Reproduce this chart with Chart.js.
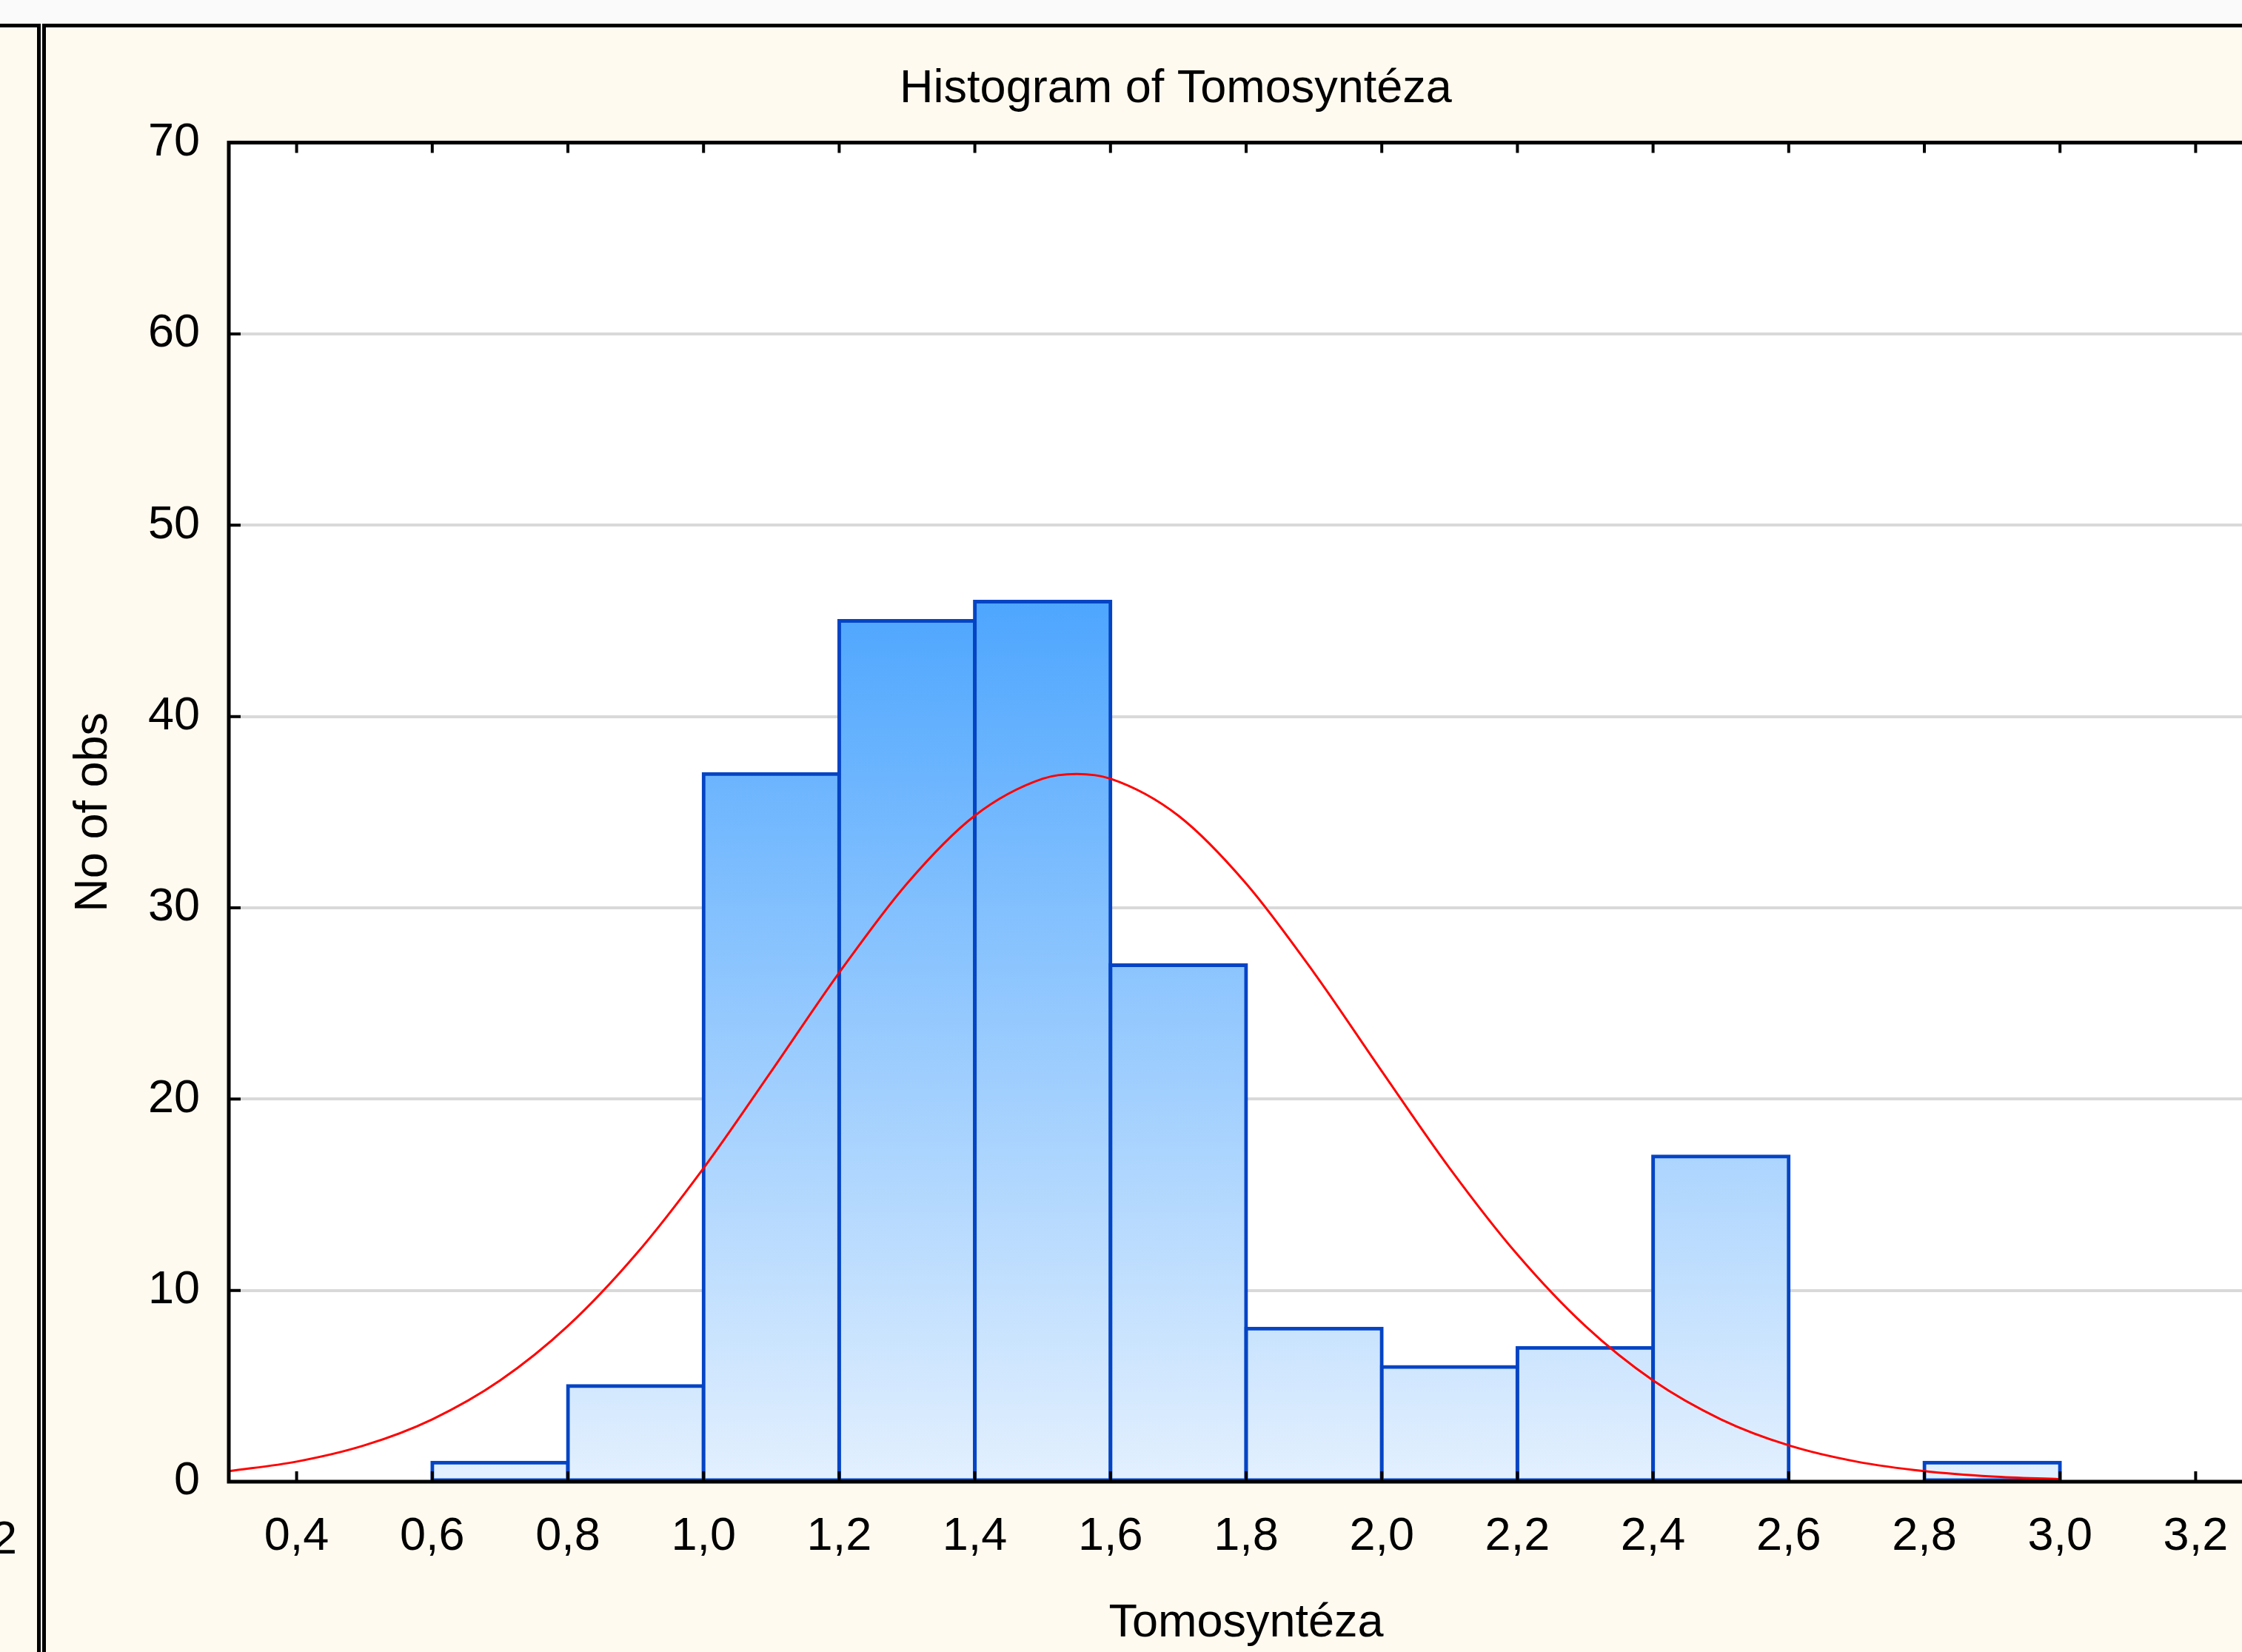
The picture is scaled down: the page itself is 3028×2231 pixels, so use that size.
<!DOCTYPE html>
<html>
<head>
<meta charset="utf-8">
<title>Histogram of Tomosyntéza</title>
<script src="https://cdn.jsdelivr.net/npm/chart.js@4.4.1/dist/chart.umd.min.js"></script>
<style>
    html, body {
        margin: 0;
        padding: 0;
        width: 3028px;
        height: 2231px;
        overflow: hidden;
        background: #fafafa;
        font-family: 'Liberation Sans', Arial, sans-serif;
    }
    #leftPanel {
        position: absolute;
        left: 0;
        top: 32px;
        width: 50px;
        height: 2199px;
        background: #fffaf0;
        border-top: 5px solid #000;
        border-right: 5px solid #000;
        overflow: hidden;
    }
    #leftPanel span {
        position: absolute;
        right: 27px;
        top: 2001px;
        font-size: 63px;
        line-height: 76px;
        color: #000;
        white-space: nowrap;
    }
    #mainPanel {
        position: absolute;
        left: 57px;
        top: 32px;
        width: 3100px;
        height: 2199px;
        background: #fffaf0;
        border-top: 5px solid #000;
        border-left: 5px solid #000;
    }
    #histogramChart {
        position: absolute;
        left: 0;
        top: 0;
    }
</style>
</head>
<body>
<div id="leftPanel"><span>3,2</span></div>
<div id="mainPanel">
    <canvas id="histogramChart" width="2995" height="2194" style="width:2995px;height:2194px"></canvas>
</div>
<script>
// bins of width 0.2, given by their centres
const binCenters = [0.7, 0.9, 1.1, 1.3, 1.5, 1.7, 1.9, 2.1, 2.3, 2.5, 2.7, 2.9];
const binCounts = [1, 5, 37, 45, 46, 27, 8, 6, 7, 17, 0, 1];

// expected normal curve
const curveX = [0.3, 0.4, 0.5, 0.6, 0.7, 0.8, 0.9, 1.0, 1.1, 1.2, 1.3, 1.4, 1.5, 1.55, 1.6,
                1.7, 1.8, 1.9, 2.0, 2.1, 2.2, 2.3, 2.4, 2.5, 2.6, 2.7, 2.8, 2.9, 3.0];
const curveY = [0.55, 1.05, 1.9, 3.26, 5.29, 8.14, 11.87, 16.39, 21.46, 26.61, 31.27, 34.82, 36.75, 37.0, 36.75,
                34.82, 31.27, 26.61, 21.46, 16.39, 11.87, 8.14, 5.29, 3.26, 1.9, 1.05, 0.55, 0.27, 0.13];

const xTickValues = [0.4, 0.6, 0.8, 1.0, 1.2, 1.4, 1.6, 1.8, 2.0, 2.2, 2.4, 2.6, 2.8, 3.0, 3.2];
const xTickLabels = ['0,4', '0,6', '0,8', '1,0', '1,2', '1,4', '1,6', '1,8', '2,0', '2,2', '2,4', '2,6', '2,8', '3,0', '3,2'];
const yTickValues = [0, 10, 20, 30, 40, 50, 60, 70];

Chart.defaults.font.family = "'Liberation Sans', Arial, sans-serif";
Chart.defaults.font.size = 63;
Chart.defaults.color = '#000';

// white plot background
const plotBackground = {
    id: 'plotBackground',
    beforeDraw(chart) {
        const {ctx, chartArea} = chart;
        ctx.save();
        ctx.fillStyle = '#ffffff';
        ctx.fillRect(chartArea.left, chartArea.top, chartArea.width, chartArea.height);
        ctx.restore();
    }
};

// black frame with inside tick marks, like the original
const plotFrame = {
    id: 'plotFrame',
    afterDatasetsDraw(chart) {
        const {ctx, chartArea, scales} = chart;
        ctx.save();
        ctx.strokeStyle = '#000';
        ctx.lineWidth = 4;
        ctx.beginPath();
        xTickValues.forEach(v => {
            const px = scales.x.getPixelForValue(v);
            ctx.moveTo(px, chartArea.bottom);
            ctx.lineTo(px, chartArea.bottom - 14);
            ctx.moveTo(px, chartArea.top);
            ctx.lineTo(px, chartArea.top + 14);
        });
        yTickValues.forEach(v => {
            const py = scales.y.getPixelForValue(v);
            ctx.moveTo(chartArea.left, py);
            ctx.lineTo(chartArea.left + 16, py);
        });
        ctx.stroke();
        ctx.lineWidth = 5;
        ctx.strokeRect(chartArea.left, chartArea.top, chartArea.width, chartArea.height);
        ctx.restore();
    }
};

function barGradient(context) {
    const {ctx, chartArea, scales} = context.chart;
    if (!chartArea) {
        return '#9fcdfd';
    }
    const maxCount = Math.max(...binCounts);
    const g = ctx.createLinearGradient(0, scales.y.getPixelForValue(0), 0, scales.y.getPixelForValue(maxCount));
    g.addColorStop(0, '#e3f0fe');
    g.addColorStop(1, '#4ea6fe');
    return g;
}

const ctx = document.getElementById('histogramChart').getContext('2d');

new Chart(ctx, {
    type: 'bar',
    data: {
        datasets: [{
            type: 'line',
            label: 'Normal',
            data: curveX.map((x, i) => ({x: x, y: curveY[i]})),
            borderColor: '#ff0000',
            borderWidth: 3,
            pointRadius: 0,
            cubicInterpolationMode: 'monotone',
            fill: false,
            order: 0
        }, {
            type: 'bar',
            label: 'No of obs',
            data: binCenters.map((x, i) => ({x: x, y: binCounts[i]})),
            backgroundColor: barGradient,
            borderColor: '#0444c4',
            borderWidth: 5,
            borderSkipped: false,
            inflateAmount: 2.5,
            barPercentage: 1,
            categoryPercentage: 1,
            order: 1
        }]
    },
    options: {
        responsive: false,
        animation: false,
        devicePixelRatio: 1,
        layout: {
            padding: {left: 57, right: 0, top: 0, bottom: 0}
        },
        plugins: {
            legend: {display: false},
            tooltip: {enabled: false},
            title: {
                display: true,
                text: 'Histogram of Tomosyntéza',
                font: {size: 63, weight: 'normal'},
                color: '#000',
                padding: {top: 46, bottom: 34}
            }
        },
        scales: {
            x: {
                type: 'linear',
                min: 0.3,
                max: 3.3,
                offset: false,
                grid: {display: false, drawTicks: false},
                border: {display: false},
                afterBuildTicks: (scale) => {
                    scale.ticks = xTickValues.map(v => ({value: v}));
                },
                afterFit: (scale) => {
                    scale.height = 230;
                },
                ticks: {
                    autoSkip: false,
                    maxRotation: 0,
                    padding: 37,
                    callback: (value) => xTickLabels[xTickValues.indexOf(value)]
                },
                title: {
                    display: true,
                    text: 'Tomosyntéza',
                    font: {size: 63},
                    color: '#000',
                    padding: {top: 0, bottom: 1}
                }
            },
            y: {
                min: 0,
                max: 70,
                grid: {color: '#d9d9d9', lineWidth: 4, drawTicks: false},
                border: {display: false},
                afterBuildTicks: (scale) => {
                    scale.ticks = yTickValues.map(v => ({value: v}));
                },
                afterFit: (scale) => {
                    scale.width = 190;
                },
                ticks: {
                    padding: 39
                },
                title: {
                    display: true,
                    text: 'No of obs',
                    font: {size: 63},
                    color: '#000',
                    padding: {top: -30, bottom: 0}
                }
            }
        }
    },
    plugins: [plotBackground, plotFrame]
});
</script>
</body>
</html>
